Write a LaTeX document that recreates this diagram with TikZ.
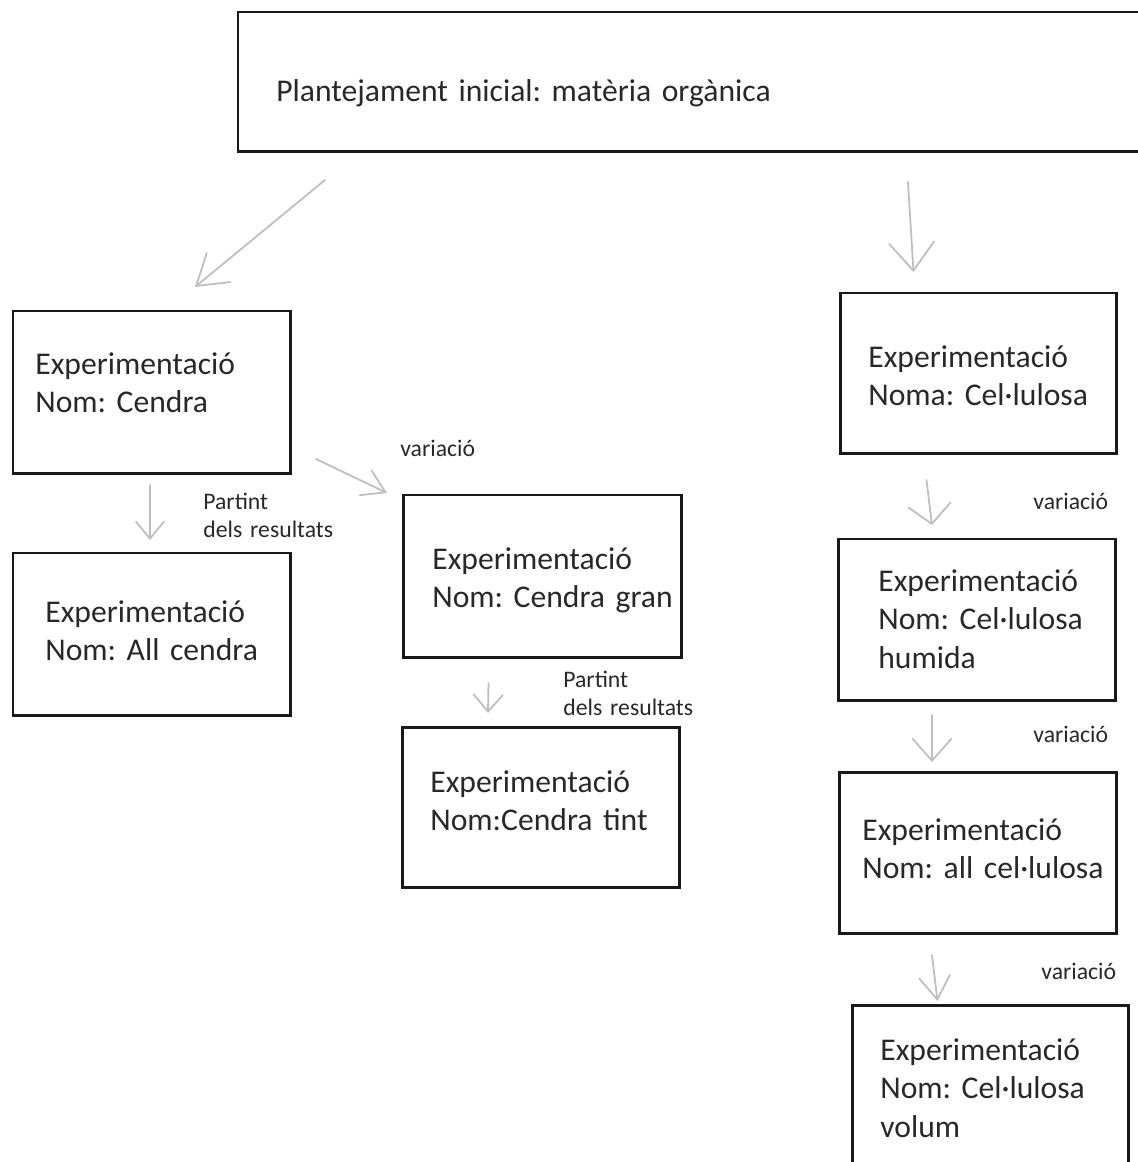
\documentclass[tikz,border=0pt]{standalone}
\usepackage{fontspec}
\setmainfont{Carlito}
\frenchspacing
\usetikzlibrary{arrows.meta,calc}
\definecolor{arrowgray}{RGB}{190,190,190}
\definecolor{textgray}{RGB}{40,40,40}
\definecolor{boxline}{RGB}{25,25,25}
\tikzset{
  box/.style={draw=boxline, line width=1.7pt, rectangle, inner sep=0pt, outer sep=0pt, anchor=north west},
  txt/.style={text=textgray, font=\fontsize{18}{22}\selectfont, text width=8cm, align=left, inner sep=0pt, anchor=base west},
  lbl/.style={text=textgray, font=\fontsize{13.5}{16}\selectfont, text width=4cm, align=left, inner sep=0pt, anchor=base west},
  arr/.style 2 args={draw=arrowgray, line width=1pt, line cap=round, -{Straight Barb[length=#1, width=#2, line cap=round]}}
}
\begin{document}
\begin{tikzpicture}[x=0.02cm,y=-0.02cm]
\useasboundingbox (0,0) rectangle (1138,1162);
\clip (0,0) rectangle (1138,1162);
% boxes
\node[box, minimum width=18.44cm, minimum height=2.8cm] (top) at (238,12) {};
\node[box, minimum width=5.56cm, minimum height=3.26cm] (cendra) at (13,311) {};
\node[box, minimum width=5.56cm, minimum height=3.26cm] (allc) at (13,553) {};
\node[box, minimum width=5.58cm, minimum height=3.26cm] (gran) at (403,495) {};
\node[box, minimum width=5.56cm, minimum height=3.22cm] (tint) at (402,727) {};
\node[box, minimum width=5.54cm, minimum height=3.22cm] (cel) at (840,293) {};
\node[box, minimum width=5.56cm, minimum height=3.24cm] (hum) at (838,539) {};
\node[box, minimum width=5.56cm, minimum height=3.24cm] (allcel) at (839,772) {};
\node[box, minimum width=5.54cm, minimum height=4.0cm] (vol) at (852,1005) {};
% texts
\node[txt, text width=14cm] (ttop) at (276,102) {Plantejament inicial: matèria orgànica};
\node[txt] (tcendra) at (35,374) {Experimentació\\Nom: Cendra};
\node[txt] (tallc) at (45,622) {Experimentació\\Nom: All cendra};
\node[txt] (tgran) at (432,569) {Experimentació\\Nom: Cendra gran};
\node[txt] (ttint) at (430,792) {Experimentació\\Nom:Cendra tint};
\node[txt] (tcel) at (868,367) {Experimentació\\Noma: Cel·lulosa};
\node[txt] (thum) at (878,591) {Experimentació\\Nom: Cel·lulosa\\humida};
\node[txt] (tallcel) at (862,840) {Experimentació\\Nom: all cel·lulosa};
\node[txt] (tvol) at (880,1060) {Experimentació\\Nom: Cel·lulosa\\volum};
% labels
\node[lbl] (l1) at (203,509) {Partint\\dels resultats};
\node[lbl] (l2) at (400,456) {variació};
\node[lbl] (l3) at (563,687) {Partint\\dels resultats};
\node[lbl] (l4) at (1033,509) {variació};
\node[lbl] (l5) at (1033,742) {variació};
\node[lbl] (l6) at (1041,979) {variació};
% arrows
\draw[arr={0.58cm}{0.75cm}] ($(top.south west)+(87,28)$) -- ($(cendra.north)+(43,-24)$);
\draw[arr={0.56cm}{0.9cm}] ($(top.south west)+(670,30)$) -- ($(cel.north)+(-65,-21)$);
\draw[arr={0.34cm}{0.56cm}] ($(cendra.south)+(-2,11)$) -- ($(allc.north)+(-2,-13)$);
\draw[arr={0.44cm}{0.55cm}] ($(cendra.south east)+(25,-15)$) -- ($(gran.north west)+(-16,-2)$);
\draw[arr={0.34cm}{0.58cm}] ($(gran.south)+(-54,25)$) -- ($(tint.north)+(-53,-14)$);
\draw[arr={0.38cm}{0.85cm}] ($(cel.south)+(-52,26)$) -- ($(hum.north)+(-45,-14)$);
\draw[arr={0.44cm}{0.78cm}] ($(hum.south)+(-45,14)$) -- ($(allcel.north)+(-46,-10)$);
\draw[arr={0.46cm}{0.62cm}] ($(allcel.south)+(-46,21)$) -- ($(vol.north)+(-53,-4)$);
\end{tikzpicture}
\end{document}
